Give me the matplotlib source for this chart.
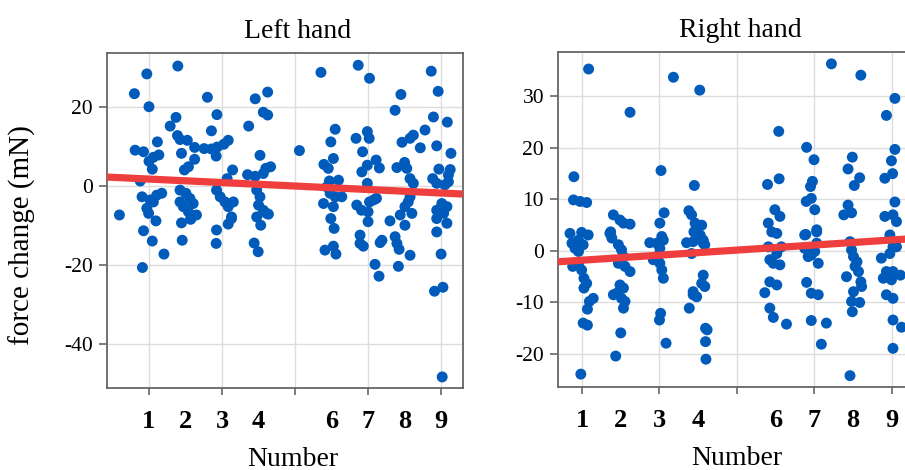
import matplotlib
matplotlib.use("Agg")
import matplotlib.pyplot as plt
from matplotlib.ticker import FixedLocator, FixedFormatter

# ---------------- data ----------------
panel_titles = ["Left hand", "Right hand"]
x_label = "Number"
y_label = "force change (mN)"
number_labels = [1, 2, 3, 4, 6, 7, 8, 9]
grid_x = [1, 3, 5, 7, 9]
left_yticks = [20, 0, -20, -40]
right_yticks = [30, 20, 10, 0, -10, -20]

left_x = [1.79, 0.94, 0.60, 1.00, 2.60, 3.91, 4.25, 4.13, 4.25, 2.86, 1.74, 1.58, 2.71, 3.73,
          1.78, 1.85, 2.05, 1.23, 0.62, 0.85, 1.27, 1.12, 1.00, 1.09, 2.25, 2.51, 2.71, 2.87,
          2.84, 3.05, 3.17, 1.89, 2.25, 2.08, 1.97, 3.29, 3.14, 4.04, 4.20, 4.33, 4.13, 3.70,
          3.91, 5.12, 0.76, 0.19, 0.81, 1.03, 1.21, 1.35, 1.12, 0.94, 0.99, 1.19, 0.85, 1.09,
          1.85, 2.01, 2.12, 1.85, 1.94, 2.21, 2.08, 2.30, 1.89, 2.14, 1.91, 2.85, 2.95, 3.08,
          3.17, 3.31, 3.26, 3.17, 2.85, 2.84, 3.95, 4.04, 4.00, 4.13, 4.22, 3.95, 4.06, 3.88,
          1.41, 0.82, 2.15, 3.26, 4.27, 3.99,
          5.71, 6.73, 7.04, 8.73, 8.92, 7.90, 7.74, 8.79, 9.17, 6.10, 5.98, 6.67, 6.98, 7.03,
          6.85, 8.56, 8.24, 8.15, 7.93, 8.43, 8.88, 9.27, 5.79, 6.05, 5.91, 7.22, 7.31, 6.98,
          6.83, 7.79, 8.00, 8.06, 8.15, 8.24, 8.94, 9.25, 9.20, 8.77, 8.88, 9.10, 9.20, 5.94,
          6.19, 5.87, 6.98, 5.96, 6.10, 6.28, 5.78, 6.05, 5.98, 6.07, 5.82, 6.69, 6.82, 7.00,
          7.15, 7.23, 7.04, 7.00, 6.78, 6.78, 7.38, 7.33, 7.60, 8.01, 8.10, 8.15, 8.20, 7.88,
          8.01, 7.79, 7.74, 9.02, 9.16, 8.88, 9.07, 8.88, 9.16, 8.88, 6.05, 6.12, 6.87, 7.19,
          7.30, 7.85, 8.15, 7.83, 9.00, 8.82, 9.05, 9.03]
left_y = [30.4, 28.4, 23.4, 20.1, 22.5, 22.1, 23.8, 18.7, 18.0, 18.1, 17.4, 15.2, 14.0, 15.2,
          12.8, 11.8, 11.6, 11.2, 9.1, 8.7, 7.9, 7.3, 6.3, 4.3, 9.8, 9.5, 9.4, 9.9,
          7.6, 10.6, 11.6, 8.3, 6.8, 4.9, 4.1, 4.1, 1.9, 7.8, 4.5, 4.9, 3.2, 2.9,
          2.5, 9.0, 1.3, -7.3, -2.7, -3.5, -2.3, -1.8, -4.0, -5.6, -6.9, -8.8, -11.3, -13.9,
          -1.0, -1.8, -3.1, -4.0, -5.2, -4.4, -6.5, -7.3, -9.3, -8.4, -13.7, -1.0, -2.7, -4.0,
          -5.2, -4.0, -7.8, -9.6, -11.1, -14.5, -1.0, -2.7, -4.8, -6.1, -6.9, -7.8, -9.9, -14.4,
          -17.2, -20.6, -8.2, -8.2, -7.1, -16.6,
          28.8, 30.6, 27.3, 29.1, 24.0, 23.2, 19.2, 17.5, 16.2, 14.4, 11.2, 12.1, 13.8, 12.1,
          8.7, 14.2, 12.9, 12.1, 11.1, 9.7, 10.2, 8.3, 5.5, 7.0, 4.5, 6.6, 4.6, 5.3,
          3.6, 4.7, 6.0, 4.5, 1.9, 0.7, 4.3, 4.2, 2.8, 1.9, 0.7, 0.3, 1.1, 1.3,
          1.5, -0.2, 0.7, -1.8, -2.7, -2.7, -4.4, -5.2, -8.2, -10.7, -16.2, -4.8, -6.1, -6.5,
          -3.5, -3.1, -4.0, -9.0, -12.4, -14.5, -13.7, -14.3, -8.8, -5.2, -4.0, -2.7, -6.9, -7.3,
          -9.9, -14.5, -12.8, -4.4, -5.2, -6.1, -6.9, -8.2, -9.4, -11.6, -15.2, -17.2, -15.2, -19.8,
          -22.8, -16.0, -17.5, -20.3, -17.2, -26.6, -25.6, -48.3]

right_x = [1.17, 2.24, 3.36, 4.04, 0.79, 0.78, 0.95, 1.12, 3.04, 3.90, 1.81, 1.98, 2.07, 2.24,
           1.74, 1.77, 3.12, 3.01, 3.76, 3.83, 3.92, 3.89, 0.69, 0.99, 1.16, 0.91, 0.74, 1.03,
           2.75, 2.93, 3.10, 3.01, 3.70, 3.87,
           0.91, 0.82, 0.76, 0.91, 0.99, 1.05, 1.12, 1.05, 1.29, 1.19, 1.14, 1.03, 1.14, 0.97,
           1.72, 1.94, 2.02, 2.07, 1.94, 2.11, 2.24, 1.98, 2.07, 1.90, 1.81, 2.02, 2.11, 2.07,
           2.00, 1.87,
           2.84, 2.98, 3.06, 3.01, 3.06, 3.10, 3.03, 3.00, 3.17,
           3.83, 3.77, 3.87, 3.96,
           6.08, 6.80, 6.99, 7.44, 8.20, 9.08, 8.86, 9.08, 8.99, 9.02, 8.82, 7.98, 7.87, 8.17,
           8.03, 5.79, 6.09, 6.95, 6.90, 6.79, 6.92, 7.01, 7.76, 7.87, 7.96, 9.08, 8.82, 9.03,
           9.12, 4.09, 4.13, 4.17,
           5.81, 5.98, 6.11, 5.90, 6.03, 5.81, 6.15, 6.78, 7.06, 7.92, 8.95, 9.12,
           4.13, 4.05, 4.13, 4.09, 4.17, 3.87, 4.19, 4.23, 4.19, 4.20,
           6.03, 5.85, 6.11, 5.94, 5.85, 6.03, 5.72, 5.85, 5.94, 6.28,
           6.75, 7.06, 6.75, 6.92, 7.01, 7.10, 6.84, 7.06, 6.80, 6.92, 7.10, 6.92, 7.31, 7.18,
           7.96, 8.01, 8.10, 8.05, 8.14, 8.20, 8.22, 7.83, 8.01, 7.96, 8.17, 7.98, 7.92,
           8.95, 9.03, 8.95, 8.73, 8.86, 9.03, 8.78, 8.99, 9.22, 8.86, 9.03, 9.03, 9.25, 9.03]
right_y = [35.3, 26.9, 33.7, 31.2, 14.4, 9.9, 9.6, 9.4, 15.6, 12.7, 7.0, 6.0, 5.4, 5.2,
           3.7, 2.5, 7.4, 5.4, 7.8, 7.0, 5.4, 3.7, 3.4, 3.6, 3.1, 2.1, 1.5, 1.2,
           1.6, 1.5, 2.1, 0.5, 1.6, 1.8,
           -0.1, 0.5, -3.0, -2.4, -3.7, -5.3, -6.3, -7.2, -9.2, -9.8, -11.3, -14.0, -14.4, -23.9,
           3.4, 1.2, 0.2, -1.1, -2.4, -3.0, -4.0, -6.6, -7.2, -8.2, -8.5, -9.2, -9.8, -11.1,
           -15.9, -20.4,
           -1.7, -0.8, 2.8, -2.4, -3.7, -5.3, -12.1, -13.4, -17.9,
           -0.5, -11.1, -7.9, -8.9,
           23.2, 20.1, 17.7, 36.3, 34.1, 29.6, 26.3, 19.7, 17.5, 15.0, 14.1, 18.2, 15.9, 14.2,
           12.7, 12.9, 14.0, 13.5, 12.5, 9.6, 10.2, 8.0, 7.0, 8.9, 7.4, 9.5, 6.7, 7.0,
           5.7, 5.0, 2.1, 1.2,
           5.4, 8.0, 6.7, 3.7, 3.4, 0.8, 0.8, 3.2, 4.1, 1.8, 3.1, 0.8,
           1.5, 3.1, -4.7, -6.3, -6.9, -8.5, -15.0, -15.3, -17.6, -21.0,
           -0.5, -1.7, -2.7, -2.4, -6.0, -6.6, -8.1, -11.1, -12.9, -14.2,
           3.1, 3.7, 0.5, -0.8, -0.1, -2.4, -1.1, 1.5, -6.1, -8.2, -8.5, -13.5, -14.0, -18.1,
           0.2, -1.1, -2.1, -3.0, -4.0, -6.0, -6.9, -5.0, -7.9, -9.8, -10.0, -11.8, -24.2,
           2.5, 0.8, -0.5, -1.4, -4.0, -4.0, -5.3, -5.6, -4.7, -8.5, -9.2, -13.4, -14.8, -18.9]

# linear trend (intercept, slope)
left_fit = (2.23, -0.441)
right_fit = (-2.29, 0.491)

# ---------------- style ----------------
plt.rcParams['font.family'] = ['Liberation Serif', 'DejaVu Serif']
POINT = '#005BBB'
LINE = '#EF3E3E'

fig = plt.figure(figsize=(9.05, 4.70), dpi=100)
W, H = 905.0, 470.0
ax_l = fig.add_axes([107 / W, 1 - 388 / H, 356 / W, 335 / H])
ax_r = fig.add_axes([558 / W, 1 - 387 / H, 359 / W, 335 / H])

panels = [
    (ax_l, left_x, left_y, left_fit, (-0.15, 9.6), (-51.1, 33.7), left_yticks, 0.534, 0.522),
    (ax_r, right_x, right_y, right_fit, (0.38, 9.65), (-26.4, 38.6), right_yticks, 0.507, 0.499),
]

for i, (ax, xs, ys, fit, xl, yl, yt, tx, lx) in enumerate(panels):
    ax.set_axisbelow(True)
    ax.scatter(xs, ys, s=62, color=POINT, edgecolors='none', zorder=3)
    ax.axline((0, fit[0]), slope=fit[1], color=LINE, lw=5.2, zorder=4, solid_capstyle='butt')
    ax.set_xlim(*xl)
    ax.set_ylim(*yl)
    ax.xaxis.remove_overlapping_locs = False
    # labelled numbers (no tick marks)
    ax.xaxis.set_major_locator(FixedLocator(number_labels))
    ax.xaxis.set_major_formatter(FixedFormatter([str(n) for n in number_labels]))
    ax.tick_params(axis='x', which='major', length=0, pad=16, labelsize=19)
    for lab in ax.get_xticklabels():
        lab.set_fontweight('bold')
    # tick marks + vertical gridlines at odd positions
    ax.xaxis.set_minor_locator(FixedLocator(grid_x))
    ax.tick_params(axis='x', which='minor', length=5, width=1.2, color='#666666')
    ax.grid(True, axis='x', which='minor', color='#dddddd', lw=1.0)
    ax.grid(False, axis='x', which='major')
    ax.set_yticks(yt)
    ax.set_yticklabels([str(v) for v in yt])
    ax.grid(True, axis='y', which='major', color='#dddddd', lw=1.0)
    ax.tick_params(axis='y', length=6, width=1.2, color='#666666', labelsize=15.5, pad=4)
    for sp in ax.spines.values():
        sp.set_color('#666666')
        sp.set_linewidth(1.3)
    ax.set_title(panel_titles[i], fontsize=20, pad=11, x=tx)
    ax.set_xlabel(x_label, fontsize=20)
    ax.xaxis.set_label_coords(lx, -0.175)

fig.text(22 / W, 1 - 235 / H, y_label, rotation=90, fontsize=21, ha='center', va='center')

fig.savefig('out.png', dpi=100)
